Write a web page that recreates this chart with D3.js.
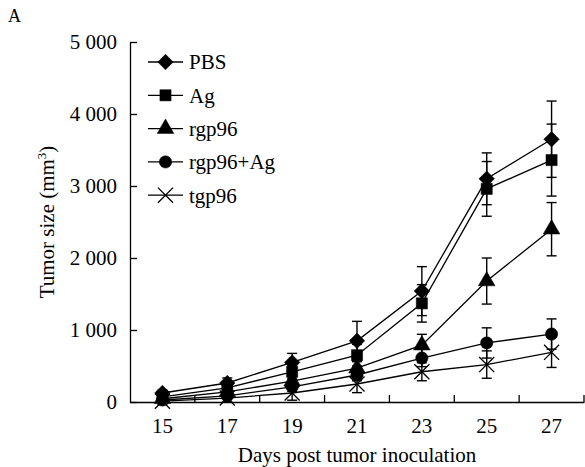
<!DOCTYPE html>
<meta charset="utf-8">
<html>
<head>
<title>Tumor size</title>
<style>
  body { margin: 0; background: #fff; }
  text { font-family: "Liberation Serif", "Times New Roman", serif; fill: #000; }
  .axis path, .axis line { stroke: #000; stroke-width: 1.3px; }
  .axis text { font-size: 21px; }
</style>
<script src="https://cdn.jsdelivr.net/npm/d3@7/dist/d3.min.js"></script>
</head>
<body>
<script>

    var width = 585, height = 467;

    // values
    var days = [15, 17, 19, 21, 23, 25, 27];
    var pbs      = [125, 264, 550, 850, 1540, 3100, 3650];
    var pbsErr   = [40, 70, 125, 270, 340, 360, 530];
    var ag       = [70, 195, 420, 650, 1370, 2960, 3360];
    var agErr    = [30, 50, 100, 150, 260, 380, 500];
    var rgp      = [45, 140, 290, 470, 790, 1680, 2400];
    var rgpErr   = [20, 40, 60, 90, 150, 320, 370];
    var rgpAg    = [28, 85, 210, 375, 611, 820, 944];
    var rgpAgErr = [20, 40, 60, 80, 120, 210, 210];
    var tgp      = [12, 55, 125, 250, 420, 520, 690];
    var tgpErr   = [50, 50, 100, 120, 125, 190, 210];
    var yTicks = [0, 1000, 2000, 3000, 4000, 5000];

    var series = [
      {name: "PBS",       vals: pbs,   err: pbsErr,   sym: "diamond"},
      {name: "Ag",        vals: ag,    err: agErr,    sym: "square"},
      {name: "rgp96",     vals: rgp,   err: rgpErr,   sym: "triangle"},
      {name: "rgp96+Ag",  vals: rgpAg, err: rgpAgErr, sym: "circle"},
      {name: "tgp96",     vals: tgp,   err: tgpErr,   sym: "times"}
    ];

    var x = d3.scaleBand().domain(days).range([130, 584]);
    var y = d3.scaleLinear().domain([0, 5000]).range([402, 42]);
    var cx = function(d) { return x(d) + x.bandwidth() / 2; };

    var svg = d3.select("body").append("svg")
        .attr("width", width)
        .attr("height", height);

    // marker shapes
    var symPath = function(s) {
      if (s == "diamond")  return d3.symbol(d3.symbolSquare, 120)();
      if (s == "square")   return d3.symbol(d3.symbolSquare, 125)();
      if (s == "triangle") return d3.symbol(d3.symbolTriangle, 120)();
      if (s == "circle")   return d3.symbol(d3.symbolCircle, 120)();
      return d3.symbol(d3.symbolTimes, 150)();
    };
    var symRot = function(s) { return s == "diamond" ? " rotate(45)" : ""; };
    var drawSym = function(g, s, tx, ty) {
      g.append("path")
        .attr("d", symPath(s))
        .attr("transform", "translate(" + tx + "," + ty + ")" + symRot(s))
        .attr("fill", s == "times" ? "none" : "#000")
        .attr("stroke", "#000")
        .attr("stroke-width", s == "times" ? 1.3 : 0.5);
    };

    var fmt = d3.formatLocale({decimal: ".", thousands: " ", grouping: [3], currency: ["", ""]}).format(",");

    // y axis, ticks inward
    svg.append("g")
      .attr("class", "axis")
      .attr("transform", "translate(130,0)")
      .call(d3.axisLeft(y).tickValues(yTicks).tickFormat(fmt).tickSizeInner(-7).tickSizeOuter(0).tickPadding(13));

    // x axis: labels at category centres, ticks at category edges
    var xa = svg.append("g")
      .attr("class", "axis")
      .attr("transform", "translate(0,402)")
      .call(d3.axisBottom(x).tickSize(0).tickPadding(16));
    xa.selectAll(".tick line").remove();
    xa.selectAll("line.edge")
      .data(d3.range(1, days.length + 1))
      .enter().append("line")
      .attr("class", "edge")
      .attr("x1", function(i) { return x.range()[0] + i * x.step(); })
      .attr("x2", function(i) { return x.range()[0] + i * x.step(); })
      .attr("y1", 0).attr("y2", -7);

    // error bars
    series.forEach(function(s) {
      var g = svg.append("g");
      days.forEach(function(d, i) {
        var px = cx(d), lo = y(s.vals[i] - s.err[i]), hi = y(s.vals[i] + s.err[i]);
        g.append("line").attr("x1", px).attr("x2", px).attr("y1", lo).attr("y2", hi)
          .attr("stroke", "#000").attr("stroke-width", 1.4);
        [lo, hi].forEach(function(yy) {
          g.append("line").attr("x1", px - 5).attr("x2", px + 5).attr("y1", yy).attr("y2", yy)
            .attr("stroke", "#000").attr("stroke-width", 1.4);
        });
      });
    });

    // lines
    var line = d3.line().x(function(d) { return cx(d[0]); }).y(function(d) { return y(d[1]); });
    series.forEach(function(s) {
      svg.append("path")
        .attr("d", line(days.map(function(d, i) { return [d, s.vals[i]]; })))
        .attr("fill", "none")
        .attr("stroke", "#000")
        .attr("stroke-width", 1.3);
    });

    // markers
    series.forEach(function(s) {
      var g = svg.append("g");
      days.forEach(function(d, i) { drawSym(g, s.sym, cx(d), y(s.vals[i])); });
    });

    // legend
    var leg = svg.append("g");
    series.forEach(function(s, i) {
      var ly = 62 + i * 33.3;
      leg.append("line").attr("x1", 148).attr("x2", 183).attr("y1", ly).attr("y2", ly)
        .attr("stroke", "#000").attr("stroke-width", 1.3);
      drawSym(leg, s.sym, 165.5, ly);
      leg.append("text").attr("x", 189).attr("y", ly).attr("dy", "0.35em")
        .style("font-size", "21px").text(s.name);
    });

    // titles
    svg.append("text")
      .attr("x", 357).attr("y", 462)
      .attr("text-anchor", "middle")
      .style("font-size", "21px")
      .text("Days post tumor inoculation");

    var yt = svg.append("text")
      .attr("transform", "translate(54,222) rotate(-90)")
      .attr("text-anchor", "middle")
      .style("font-size", "21px");
    yt.append("tspan").text("Tumor size (mm");
    yt.append("tspan").attr("dy", -8).style("font-size", "13px").text("3");
    yt.append("tspan").attr("dy", 8).text(")");

    svg.append("text")
      .attr("x", 8).attr("y", 22)
      .style("font-size", "18px")
      .text("A");

</script>
</body>
</html>
